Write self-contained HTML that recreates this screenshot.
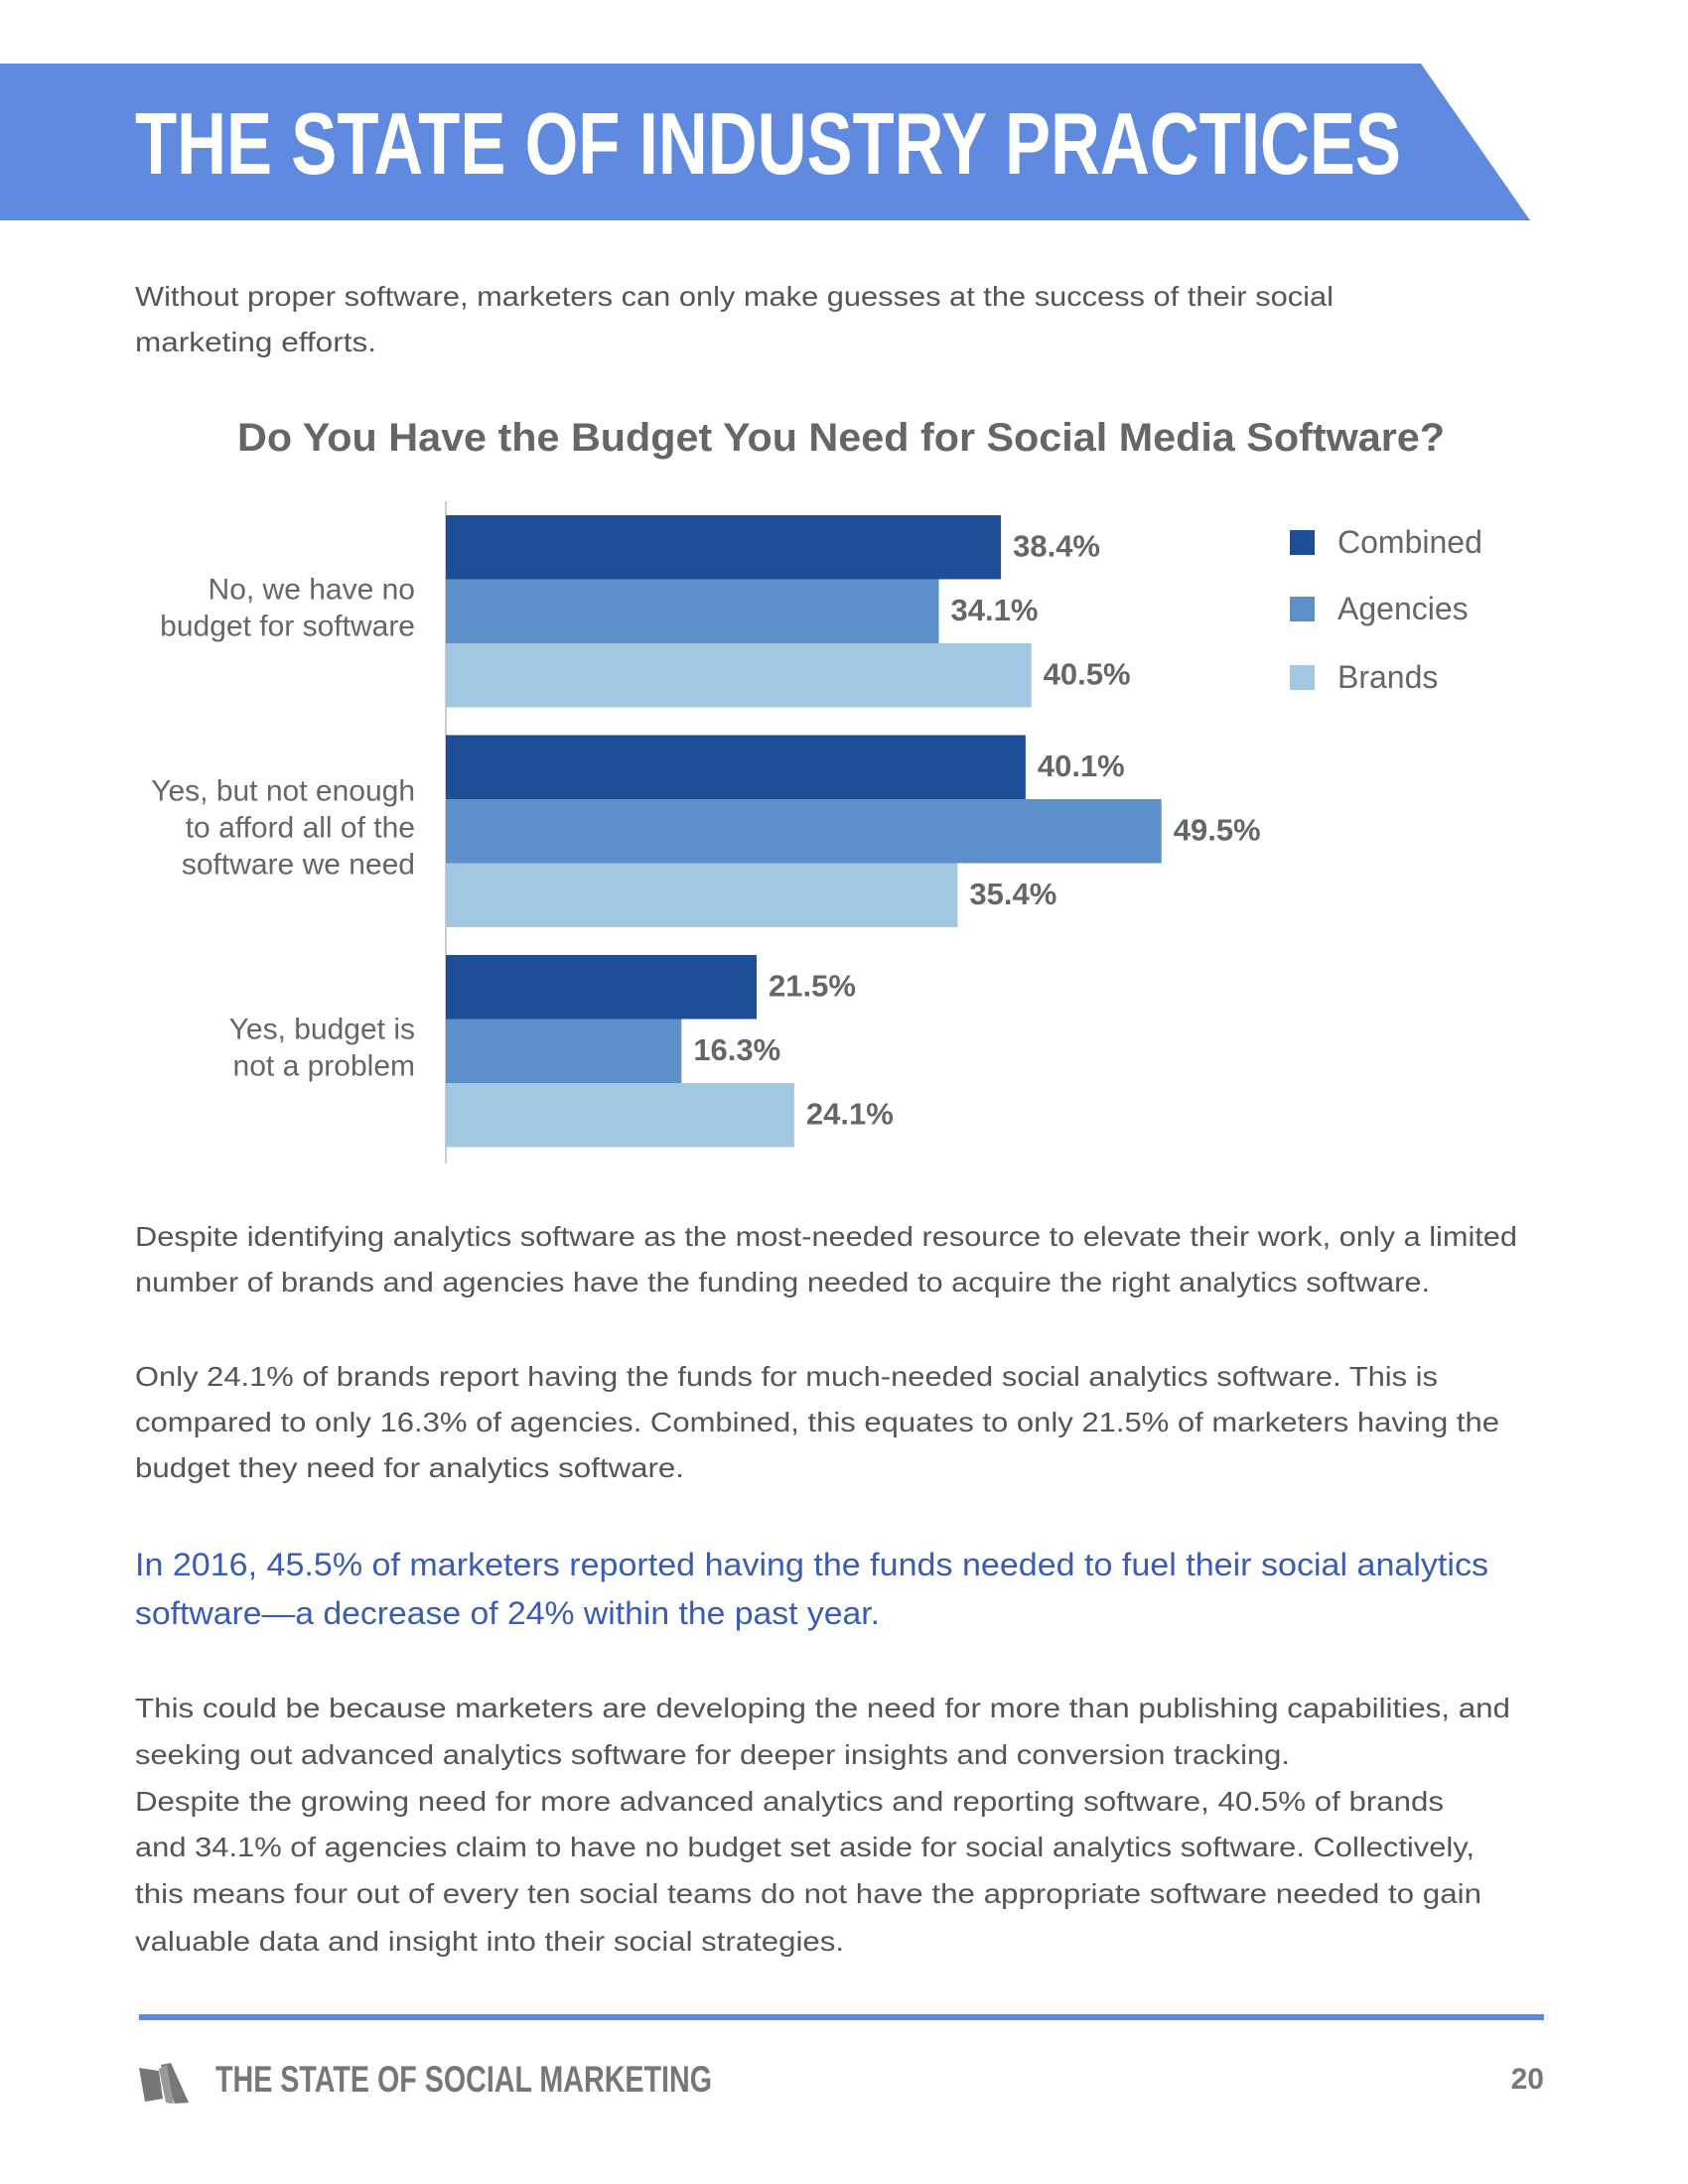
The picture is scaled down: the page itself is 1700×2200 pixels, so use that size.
<!DOCTYPE html>
<html><head><meta charset="utf-8"><style>
html,body{margin:0;padding:0;background:#fff;}
svg{display:block;font-family:"Liberation Sans",sans-serif;}
</style></head><body>
<svg id="page" width="1700" height="2200" viewBox="0 0 1700 2200" xmlns="http://www.w3.org/2000/svg">
<polygon points="0,64 1431,64 1541,222 0,222" fill="#6089e0"/>
<text x="136" y="175" font-size="88" font-weight="bold" fill="#fff" textLength="1275" lengthAdjust="spacingAndGlyphs">THE STATE OF INDUSTRY PRACTICES</text>
<g font-size="28" fill="#555">
<text x="136" y="308" textLength="1207" lengthAdjust="spacingAndGlyphs">Without proper software, marketers can only make guesses at the success of their social</text>
<text x="136" y="354" textLength="243" lengthAdjust="spacingAndGlyphs">marketing efforts.</text>
</g>
<text x="239" y="454" font-size="40" font-weight="bold" fill="#666" textLength="1216" lengthAdjust="spacingAndGlyphs">Do You Have the Budget You Need for Social Media Software?</text>
<g id="chart"></g>
<g font-size="28" fill="#555">
<text x="136" y="1255" textLength="1392" lengthAdjust="spacingAndGlyphs">Despite identifying analytics software as the most-needed resource to elevate their work, only a limited</text>
<text x="136" y="1301" textLength="1304" lengthAdjust="spacingAndGlyphs">number of brands and agencies have the funding needed to acquire the right analytics software.</text>
<text x="136" y="1396" textLength="1312" lengthAdjust="spacingAndGlyphs">Only 24.1% of brands report having the funds for much-needed social analytics software. This is</text>
<text x="136" y="1442" textLength="1374" lengthAdjust="spacingAndGlyphs">compared to only 16.3% of agencies. Combined, this equates to only 21.5% of marketers having the</text>
<text x="136" y="1488" textLength="553" lengthAdjust="spacingAndGlyphs">budget they need for analytics software.</text>
</g>
<g font-size="32" fill="#3a5cb3">
<text x="136" y="1587" textLength="1363" lengthAdjust="spacingAndGlyphs">In 2016, 45.5% of marketers reported having the funds needed to fuel their social analytics</text>
<text x="136" y="1636" textLength="750" lengthAdjust="spacingAndGlyphs">software—a decrease of 24% within the past year.</text>
</g>
<g font-size="28" fill="#555">
<text x="136" y="1730" textLength="1385" lengthAdjust="spacingAndGlyphs">This could be because marketers are developing the need for more than publishing capabilities, and</text>
<text x="136" y="1777" textLength="1163" lengthAdjust="spacingAndGlyphs">seeking out advanced analytics software for deeper insights and conversion tracking.</text>
<text x="136" y="1824" textLength="1318" lengthAdjust="spacingAndGlyphs">Despite the growing need for more advanced analytics and reporting software, 40.5% of brands</text>
<text x="136" y="1870" textLength="1349" lengthAdjust="spacingAndGlyphs">and 34.1% of agencies claim to have no budget set aside for social analytics software. Collectively,</text>
<text x="136" y="1917" textLength="1356" lengthAdjust="spacingAndGlyphs">this means four out of every ten social teams do not have the appropriate software needed to gain</text>
<text x="136" y="1965" textLength="714" lengthAdjust="spacingAndGlyphs">valuable data and insight into their social strategies.</text>
</g>
<rect x="140" y="2029" width="1415" height="6" fill="#5f88e0"/>
<g fill="#777">
<path d="M140,2083 L160,2086 L164,2114 L146,2117 Z"/>
<path d="M162,2080 L172,2078 L190,2118 L176,2119 Z"/>
<path d="M160,2084 L168,2080 L175,2119 L167,2118 Z" fill="#999"/>
</g>
<text x="217" y="2107" font-size="37" font-weight="bold" fill="#777" textLength="500" lengthAdjust="spacingAndGlyphs">THE STATE OF SOCIAL MARKETING</text>
<text x="1555" y="2104" font-size="30" font-weight="bold" fill="#777" text-anchor="end">20</text>
</svg>
<script>
const categories = [["No, we have no","budget for software"],["Yes, but not enough","to afford all of the","software we need"],["Yes, budget is","not a problem"]];
const seriesNames = ["Combined","Agencies","Brands"];
const combined = [38.4, 40.1, 21.5];
const agencies = [34.1, 49.5, 16.3];
const brands = [40.5, 35.4, 24.1];
const colors = ["#1f4e99","#5d8fca","#a2c8e1"];
const NS = "http://www.w3.org/2000/svg";
const g = document.getElementById("chart");
const x0 = 449, pxPerPct = 14.56, groupTop = 519, groupStep = 221.5, barH = 64.5;
function xScale(v){ return x0 + v * pxPerPct; }
function yBar(ci, si){ return groupTop + ci * groupStep + si * barH; }
function mk(tag, attrs){ const e = document.createElementNS(NS, tag); for (const k in attrs) e.setAttribute(k, attrs[k]); g.appendChild(e); return e; }
const series = [combined, agencies, brands];
const axis = mk("line", {x1:x0, y1:505, x2:x0, y2:1172, stroke:"#ccc", "stroke-width":2});


categories.forEach((lines, ci) => {
  const center = yBar(ci, 0) + barH * 1.5;
  const lh = 37;
  const startY = center - (lines.length - 1) * lh / 2 + 10;
  lines.forEach((ln, li) => {
    const t = mk("text", {x:418, y:startY + li * lh - 4, "font-size":30, fill:"#666", "text-anchor":"end"});
    t.textContent = ln;
    
    
  });
  series.forEach((vals, si) => {
    const y = yBar(ci, si);
    const r = mk("rect", {x:x0, y:y, width:xScale(vals[ci]) - x0, height:barH, fill:colors[si]});
    
    
    const t = mk("text", {x:xScale(vals[ci]) + 12, y:y + barH / 2 + 9, "font-size":31, "font-weight":"bold", fill:"#666"});
    t.textContent = vals[ci].toFixed(1) + "%";
    
    
  });
});
const legendY = [546, 613, 682];
seriesNames.forEach((n, i) => {
  const r = mk("rect", {x:1299, y:legendY[i] - 12, width:25, height:25, fill:colors[i]});
  
  
  const t = mk("text", {x:1347, y:legendY[i] + 11, "font-size":32, fill:"#666"});
  t.textContent = n;
  
  
});
</script>
</body></html>
